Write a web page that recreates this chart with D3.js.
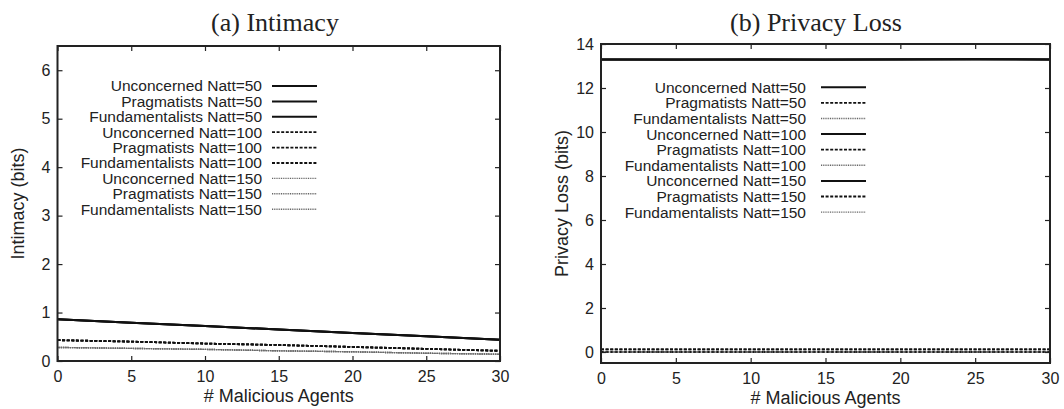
<!DOCTYPE html>
<html>
<head>
<meta charset="utf-8">
<script src="https://cdn.jsdelivr.net/npm/d3@7"></script>
<style>
  html, body { margin: 0; padding: 0; background: #fff; }
  svg { display: block; }
  text { font-family: "Liberation Sans", Arial, sans-serif; fill: #222; }
</style>
</head>
<body>
<svg id="chart" width="1064" height="409"></svg>
<script>
// ---------- data ----------
const agents = [0, 5, 10, 15, 20, 25, 30];
const xTicks = [0, 5, 10, 15, 20, 25, 30];

// (a) Intimacy (bits)
const intimacyUnconcerned50 = [0.86, 0.79, 0.72, 0.65, 0.58, 0.51, 0.44];
const intimacyPragmatists50 = [0.86, 0.79, 0.72, 0.65, 0.58, 0.51, 0.44];
const intimacyFundamentalists50 = [0.86, 0.79, 0.72, 0.65, 0.58, 0.51, 0.44];
const intimacyUnconcerned100 = [0.43, 0.40, 0.36, 0.33, 0.29, 0.25, 0.21];
const intimacyPragmatists100 = [0.43, 0.40, 0.36, 0.33, 0.29, 0.25, 0.21];
const intimacyFundamentalists100 = [0.43, 0.40, 0.36, 0.33, 0.29, 0.25, 0.21];
const intimacyUnconcerned150 = [0.28, 0.26, 0.24, 0.21, 0.19, 0.16, 0.14];
const intimacyPragmatists150 = [0.28, 0.26, 0.24, 0.21, 0.19, 0.16, 0.14];
const intimacyFundamentalists150 = [0.28, 0.26, 0.24, 0.21, 0.19, 0.16, 0.14];
const intimacyTicks = [0, 1, 2, 3, 4, 5, 6];

// (b) Privacy Loss (bits)
const lossUnconcerned50 = [13.30, 13.28, 13.31, 13.29, 13.30, 13.32, 13.30];
const lossPragmatists50 = [0.12, 0.12, 0.12, 0.12, 0.12, 0.12, 0.12];
const lossFundamentalists50 = [0.0, 0.0, 0.0, 0.0, 0.0, 0.0, 0.0];
const lossUnconcerned100 = [13.29, 13.30, 13.28, 13.30, 13.31, 13.30, 13.29];
const lossPragmatists100 = [0.12, 0.12, 0.12, 0.12, 0.12, 0.12, 0.12];
const lossFundamentalists100 = [0.0, 0.0, 0.0, 0.0, 0.0, 0.0, 0.0];
const lossUnconcerned150 = [13.30, 13.29, 13.30, 13.28, 13.30, 13.31, 13.30];
const lossPragmatists150 = [0.0, 0.0, 0.0, 0.0, 0.0, 0.0, 0.0];
const lossFundamentalists150 = [0.0, 0.0, 0.0, 0.0, 0.0, 0.0, 0.0];
const lossTicks = [0, 2, 4, 6, 8, 10, 12, 14];

const seriesNames = [
  "Unconcerned Natt=50", "Pragmatists Natt=50", "Fundamentalists Natt=50",
  "Unconcerned Natt=100", "Pragmatists Natt=100", "Fundamentalists Natt=100",
  "Unconcerned Natt=150", "Pragmatists Natt=150", "Fundamentalists Natt=150"
];

// ---------- styles ----------
const STYLES = {
  solid:  { stroke: "#111", width: 2,   dash: null },
  dashed: { stroke: "#111", width: 1.8, dash: "3,1.6" },
  dotted: { stroke: "#666", width: 1.4, dash: "1,0.8" }
};

const svg = d3.select("#chart");

function drawPanel(cfg) {
  const x = d3.scaleLinear().domain([0, 30]).range([cfg.left, cfg.right]);
  const y = d3.scaleLinear().domain(cfg.yDomain).range([cfg.bottom, cfg.top]);
  const g = svg.append("g");

  // data lines (drawn first, frame on top)
  const line = d3.line().x((d, i) => x(agents[i])).y(d => y(d));
  cfg.series.forEach((s) => {
    const st = STYLES[s.style];
    g.append("path")
      .attr("d", line(s.values))
      .attr("fill", "none")
      .attr("stroke", st.stroke)
      .attr("stroke-width", st.width)
      .attr("stroke-dasharray", st.dash);
  });

  // axes with inward ticks
  const tick = 5;
  const fmt = d3.format("d");
  const axL = g.append("g").attr("transform", `translate(${cfg.left},0)`)
    .call(d3.axisLeft(y).tickValues(cfg.yTicks).tickFormat(fmt).tickSizeInner(-tick).tickSizeOuter(0).tickPadding(7));
  const axR = g.append("g").attr("transform", `translate(${cfg.right},0)`)
    .call(d3.axisRight(y).tickValues(cfg.yTicks).tickSizeInner(-tick).tickSizeOuter(0).tickFormat(""));
  const axB = g.append("g").attr("transform", `translate(0,${cfg.bottom})`)
    .call(d3.axisBottom(x).tickValues(xTicks).tickFormat(fmt).tickSizeInner(-tick).tickSizeOuter(0).tickPadding(7));
  const axT = g.append("g").attr("transform", `translate(0,${cfg.top})`)
    .call(d3.axisTop(x).tickValues(xTicks).tickSizeInner(-tick).tickSizeOuter(0).tickFormat(""));
  [axL, axR, axB, axT].forEach(a => {
    a.select(".domain").remove();
    a.selectAll("line").attr("stroke", "#222").attr("stroke-width", 1.2);
    a.selectAll("text").attr("font-size", 16).attr("fill", "#222")
      .attr("font-family", "Liberation Sans, Arial, sans-serif");
  });
  axB.selectAll("text").attr("dy", "0.9em");

  // frame
  g.append("rect")
    .attr("x", cfg.left).attr("y", cfg.top)
    .attr("width", cfg.right - cfg.left).attr("height", cfg.bottom - cfg.top)
    .attr("fill", "none").attr("stroke", "#222").attr("stroke-width", 2);

  // titles
  g.append("text")
    .attr("x", cfg.titleX).attr("y", 31)
    .attr("text-anchor", "middle")
    .attr("font-size", 26)
    .style("font-family", "'Liberation Serif', 'Times New Roman', serif")
    .text(cfg.title);
  g.append("text")
    .attr("x", (cfg.left + cfg.right) / 2).attr("y", cfg.xLabelY)
    .attr("text-anchor", "middle").attr("font-size", 18)
    .text("# Malicious Agents");
  g.append("text")
    .attr("transform", `translate(${cfg.yLabelX},${(cfg.top + cfg.bottom) / 2}) rotate(-90)`)
    .attr("text-anchor", "middle").attr("font-size", 18)
    .text(cfg.yLabel);

  // legend
  const lg = g.append("g");
  cfg.series.forEach((s, k) => {
    const yy = cfg.legendY0 + k * cfg.legendStep;
    const st = STYLES[s.style];
    lg.append("text")
      .attr("x", cfg.legendTextX).attr("y", yy).attr("dy", "0.35em")
      .attr("text-anchor", "end").attr("font-size", 15.5)
      .text(s.name);
    lg.append("line")
      .attr("x1", cfg.legendLineX0).attr("x2", cfg.legendLineX0 + 45)
      .attr("y1", yy).attr("y2", yy)
      .attr("stroke", st.stroke).attr("stroke-width", st.width)
      .attr("stroke-dasharray", st.dash);
  });
}

const intimacyData = [
  intimacyUnconcerned50, intimacyPragmatists50, intimacyFundamentalists50,
  intimacyUnconcerned100, intimacyPragmatists100, intimacyFundamentalists100,
  intimacyUnconcerned150, intimacyPragmatists150, intimacyFundamentalists150
];
const intimacyStyles = ["solid", "solid", "solid", "dashed", "dashed", "dashed", "dotted", "dotted", "dotted"];

const lossData = [
  lossUnconcerned50, lossPragmatists50, lossFundamentalists50,
  lossUnconcerned100, lossPragmatists100, lossFundamentalists100,
  lossUnconcerned150, lossPragmatists150, lossFundamentalists150
];
const lossStyles = ["solid", "dashed", "dotted", "solid", "dashed", "dotted", "solid", "dashed", "dotted"];

drawPanel({
  left: 57.5, right: 500, top: 46, bottom: 361,
  yDomain: [0, 6.5], yTicks: intimacyTicks,
  title: "(a) Intimacy", titleX: 275,
  yLabel: "Intimacy (bits)", yLabelX: 24, xLabelY: 402,
  legendTextX: 262, legendLineX0: 272, legendY0: 86, legendStep: 15.4,
  series: intimacyData.map((v, i) => ({ name: seriesNames[i], values: v, style: intimacyStyles[i] }))
});

drawPanel({
  left: 601, right: 1050, top: 44, bottom: 363,
  yDomain: [-0.5, 14], yTicks: lossTicks,
  title: "(b) Privacy Loss", titleX: 816,
  yLabel: "Privacy Loss (bits)", yLabelX: 568, xLabelY: 404,
  legendTextX: 806, legendLineX0: 821, legendY0: 87.3, legendStep: 15.6,
  series: lossData.map((v, i) => ({ name: seriesNames[i], values: v, style: lossStyles[i] }))
});
</script>
</body>
</html>
